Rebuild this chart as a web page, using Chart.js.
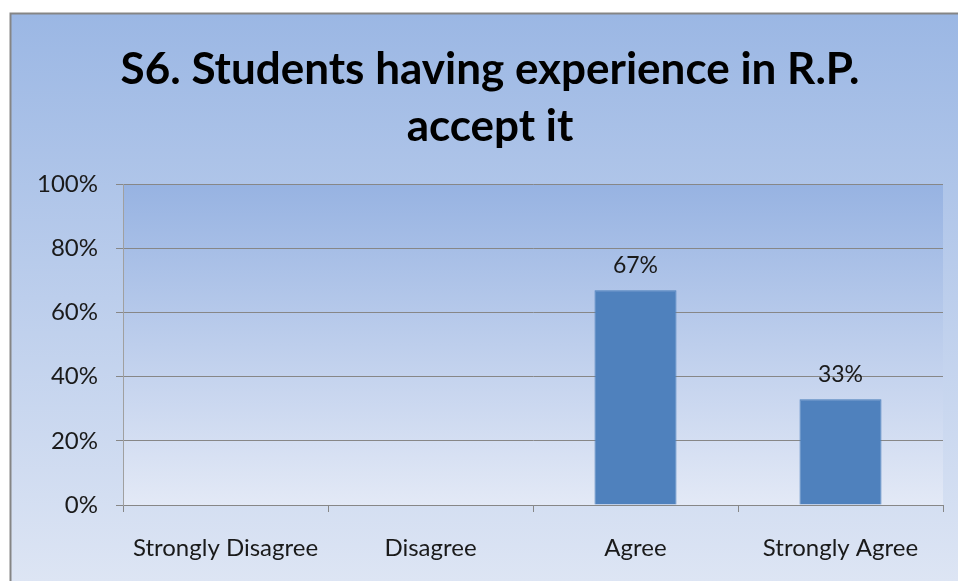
<!DOCTYPE html>
<html><head><meta charset="utf-8">
<script src="https://cdn.jsdelivr.net/npm/chart.js@4/dist/chart.umd.min.js"></script>
<style>html,body{margin:0;padding:0;background:#fff;}#wrap{width:958px;height:581px;position:relative;}</style>
</head><body><div id="wrap"><canvas id="c" width="958" height="581"></canvas></div>
<script>
const categories = ["Strongly Disagree", "Disagree", "Agree", "Strongly Agree"];
const values = [null, null, 67, 33];
const valueLabels = ["", "", "67%", "33%"];
const yTicks = [0, 20, 40, 60, 80, 100];
const titleLines = ["S6. Students having experience in R.P.", "accept it"];

const FONT = "Lato, 'Open Sans', sans-serif";

const bgPlugin = {
  id: 'bg',
  beforeDraw(chart) {
    const ctx = chart.ctx, W = chart.width, H = chart.height;
    ctx.save();
    ctx.fillStyle = '#ffffff';
    ctx.fillRect(0, 0, W, H);
    const g = ctx.createLinearGradient(0, 14, 0, H);
    g.addColorStop(0, '#9bb7e4');
    g.addColorStop(1, '#dde5f4');
    ctx.fillStyle = g;
    ctx.fillRect(11, 14, W - 11, H - 14);
    ctx.strokeStyle = '#858585';
    ctx.lineWidth = 2;
    ctx.beginPath();
    ctx.moveTo(10.5, H); ctx.lineTo(10.5, 13.5); ctx.lineTo(W, 13.5);
    ctx.stroke();
    const a = chart.chartArea;
    const g2 = ctx.createLinearGradient(0, a.top, 0, a.bottom);
    g2.addColorStop(0, '#97b3e2');
    g2.addColorStop(1, '#e3e9f6');
    ctx.fillStyle = g2;
    ctx.fillRect(a.left, a.top, a.right - a.left, a.bottom - a.top);
    ctx.restore();
  }
};

const labelPlugin = {
  id: 'vlabels',
  afterDatasetsDraw(chart) {
    const ctx = chart.ctx;
    const meta = chart.getDatasetMeta(0);
    ctx.save();
    ctx.font = "23px " + FONT;
    ctx.fillStyle = '#1a1a1a';
    ctx.textAlign = 'center';
    ctx.textBaseline = 'alphabetic';
    meta.data.forEach((bar, i) => {
      if (values[i] == null) return;
      ctx.fillText(valueLabels[i], bar.x, bar.y - 17);
    });
    ctx.restore();
  }
};

new Chart(document.getElementById('c'), {
  type: 'bar',
  data: {
    labels: categories,
    datasets: [{
      data: values,
      backgroundColor: '#4f81bd',
      borderColor: '#4a7ebb',
      borderWidth: 1,
      barPercentage: 0.4,
      categoryPercentage: 1.0
    }]
  },
  options: {
    responsive: false,
    animation: false,
    devicePixelRatio: 1,
    layout: { padding: { left: 37, right: 15, top: 0, bottom: 0 } },
    plugins: {
      legend: { display: false },
      tooltip: { enabled: false },
      title: {
        display: true,
        text: titleLines,
        color: '#000000',
        font: { family: FONT, size: 44, weight: 'bold', lineHeight: 1.3 },
        padding: { top: 41, bottom: 29 }
      }
    },
    scales: {
      x: {
        offset: true,
        grid: { offset: true, drawOnChartArea: false, drawTicks: true, tickLength: 7, color: '#878787', lineWidth: 1 },
        border: { display: true, color: '#878787', width: 1 },
        ticks: { color: '#1a1a1a', font: { family: FONT, size: 24 }, padding: 22, maxRotation: 0, autoSkip: false },
        afterFit(s) { s.height = 76; }
      },
      y: {
        min: 0, max: 100,
        afterBuildTicks(s) { s.ticks = yTicks.map(v => ({ value: v })); },
        grid: { drawTicks: true, tickLength: 7, color: '#878787', lineWidth: 1 },
        border: { display: true, color: '#a0a0a0', width: 1 },
        ticks: { color: '#1a1a1a', font: { family: FONT, size: 24 }, padding: 18, callback: v => v + '%' },
        afterFit(s) { s.width = 86; }
      }
    }
  },
  plugins: [bgPlugin, labelPlugin]
});
</script></body></html>
